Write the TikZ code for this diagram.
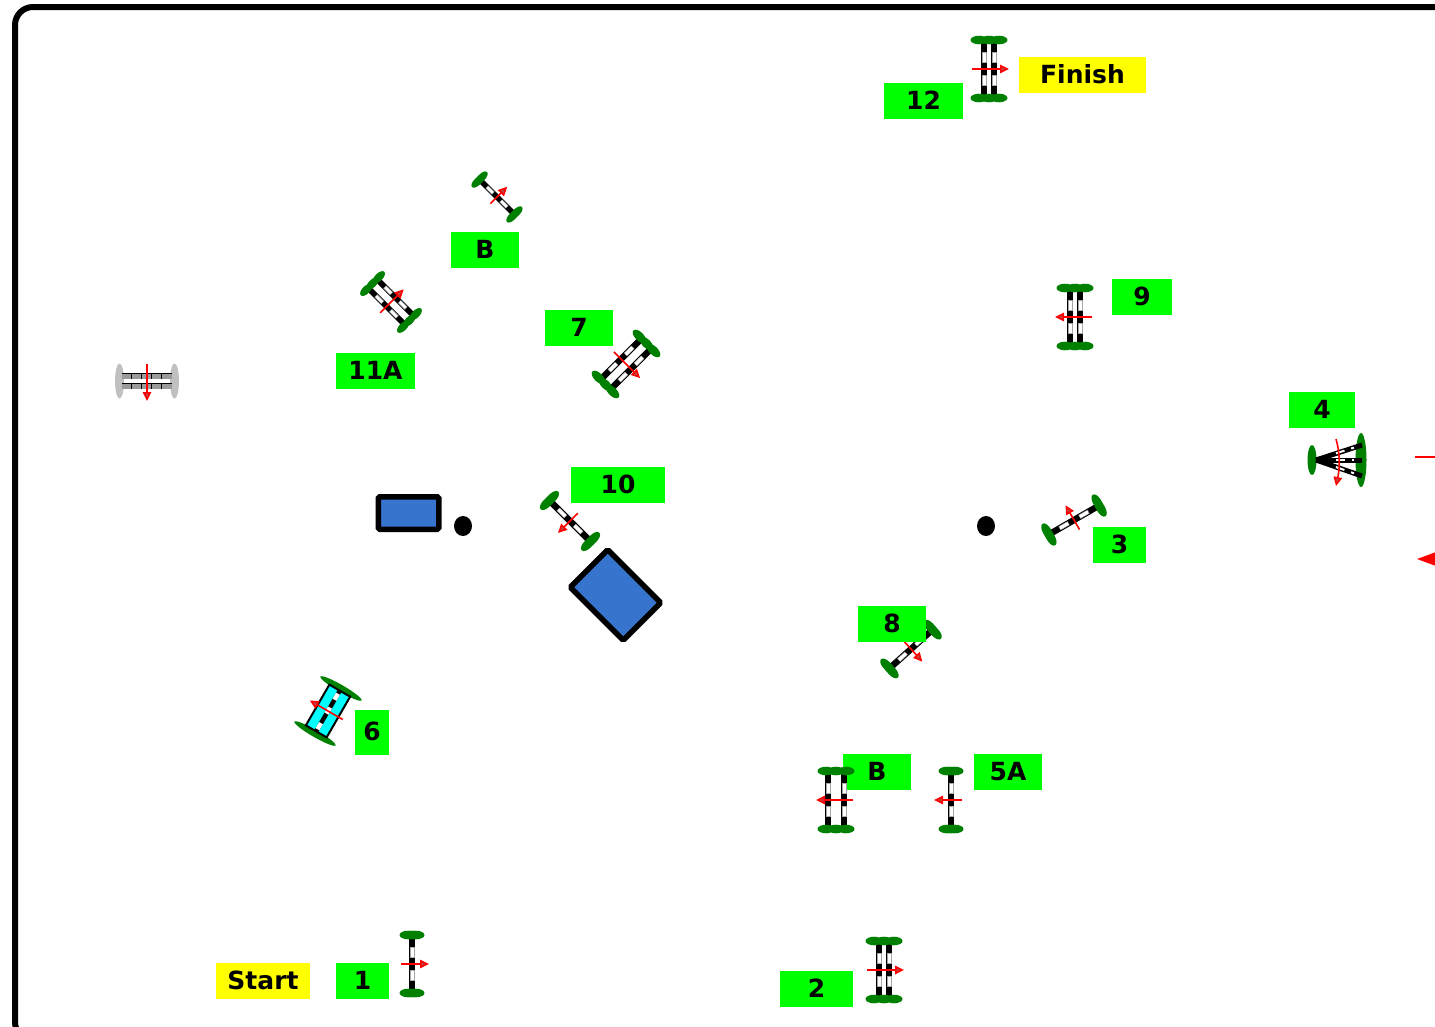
\documentclass[tikz,border=0pt]{standalone}
\usepackage{fontspec}
\setmainfont{DejaVu Sans}
\usepackage{xcolor}
\usetikzlibrary{arrows.meta,shapes.geometric}

\definecolor{hedgegreen}{RGB}{0,128,0}
\definecolor{labelgreen}{RGB}{0,255,0}
\definecolor{labelyellow}{RGB}{255,255,0}
\definecolor{pondblue}{RGB}{54,116,205}
\definecolor{wallgrey}{RGB}{192,192,192}
\definecolor{hedgecyan}{RGB}{0,255,255}

% one striped rail, and the green feet at both of its ends
\newcommand{\railbar}[1]{
    \fill[black] (#1-3.2,-26.5) rectangle (#1+3.2,26.5);
    \foreach \y in {-16.5,6.5} {
        \fill[white, draw=gray!70] (#1-1.9,\y) rectangle (#1+1.9,\y+10);
    }
}
\newcommand{\feetlobes}[1]{
    \foreach \x in {-#1,0,#1} {
        \fill[hedgegreen] (\x,-29) ellipse[x radius=8.5, y radius=4.3];
        \fill[hedgegreen] (\x,29) ellipse[x radius=8.5, y radius=4.3];
    }
}

\tikzset{
    tag/.style={fill=labelgreen, inner sep=0pt, text height=18.2pt, text depth=2pt, font=\fontsize{25}{30}\selectfont\bfseries},
    starttag/.style={tag, fill=labelyellow},
    pond/.style={draw, line width=5.5pt, fill=pondblue, rounded corners=1.5pt},
    post/.style={fill=black, ellipse, minimum width=18pt, minimum height=20pt, inner sep=0pt},
    jumparrow/.style={red, line width=1.6pt, -{Triangle[fill=red!45!gray, length=9pt, width=8.5pt]}},
    pics/singlejump/.style={code={
        \railbar{0}
        \feetlobes{4}
        \draw[jumparrow] (-11,0) -- (17,0);
    }},
    pics/oxerjump/.style={code={
        \fill[gray!60] (-#1,-26.5) rectangle (#1,26.5);
        \fill[white] (-#1+3,-26.5) rectangle (#1-3,26.5);
        \railbar{-#1}
        \railbar{#1}
        \feetlobes{10}
        \draw[jumparrow] (-17,0) -- (20,0);
    }},
    pics/hedgejump/.style={code={
        \fill[hedgegreen] (0,-26) ellipse[x radius=24, y radius=3.5];
        \fill[hedgegreen] (0,26) ellipse[x radius=24, y radius=3.5];
        \draw[line width=2pt, fill=hedgecyan] (-12,-23.5) rectangle (12,23.5);
        \fill[black] (-2.2,-23) rectangle (2.2,23);
        \foreach \y in {-21,-3,13} {
            \fill[white] (-2.2,\y) rectangle (2.2,\y+7);
        }
        \draw[jumparrow] (-17,0) -- (21,0);
    }},
    pics/walljump/.style={code={
        \fill[wallgrey] (0,-27.5) ellipse[x radius=17.5, y radius=4.5];
        \fill[wallgrey] (0,27.5) ellipse[x radius=17.5, y radius=4.5];
        \foreach \x in {-5,5} {
            \fill[wallgrey!80!black] (\x-3,-25) rectangle (\x+3,25);
            \draw[line width=.9pt] (\x-3,-25) -- (\x-3,25);
            \foreach \y in {-14,-4,6,16} {
                \draw[line width=.7pt] (\x-3,\y) -- (\x+3,\y);
            }
        }
        \draw[jumparrow] (-17,0) -- (20,0);
    }},
    pics/fanjump/.style={code={
        \fill[hedgegreen] (-26,0) ellipse[x radius=4.5, y radius=15];
        \fill[hedgegreen] (23,0) ellipse[x radius=5.5, y radius=27];
        \foreach \yend in {-15,0,16} {
            \draw[line width=5pt] (-22,0) -- (24,\yend);
        }
        \foreach \yend in {-15,0,16} {
            \draw[white, line width=2pt, dash pattern=on 9pt off 7pt, dash phase=-2pt] (-4,\yend*.4) -- (16,\yend*.83);
        }
        \draw[jumparrow] (-2,-21) .. controls (2,-7) and (2,7) .. (-2,26);
    }},
}

\begin{document}
\begin{tikzpicture}[x=1pt, y=-1pt]

\path[use as bounding box, clip] (0,0) rectangle (1435,1026);

% frame
\draw[line width=6pt, rounded corners=18pt] (15,1040) rectangle (1500,7);

% ponds and posts
\node[pond, minimum width=60.5pt, minimum height=32.5pt, inner sep=0pt] (pondleft) at (408.5,513) {};
\node[pond, rotate=-45, minimum width=75pt, minimum height=53pt, inner sep=0pt] (pondright) at (615.5,595) {};
\node[post] (postleft) at (463,526) {};
\node[post] (postright) at (986,526) {};

% labels under the jumps
\node[tag, minimum width=68pt, minimum height=36pt] (labelBlow) at (877,772) {B};

% jumps
\pic at (147,381) [rotate=-90] {walljump};
\pic at (412,964) {singlejump};
\pic at (884,970) {oxerjump=5};
\pic at (1074,520) [rotate=120] {singlejump};
\pic at (1338,460) {fanjump};
\pic at (951,800) [rotate=180] {singlejump};
\pic at (836,800) [rotate=180] {oxerjump=8};
\pic at (328,711) [rotate=150] {hedgejump};
\pic at (626,364) [rotate=-45] {oxerjump=7};
\pic at (911,649) [rotate=-48] {singlejump};
\pic at (1075,317) [rotate=180] {oxerjump=5};
\pic at (570,521) [rotate=225] {singlejump};
\pic at (391,302) [rotate=45, scale=.9] {oxerjump=7};
\pic at (497,197) [rotate=45, scale=.85] {singlejump};
\pic at (989,69) {oxerjump=5};

% next part of the course, cut off by the edge
\coordinate (cutline) at (1415,457);
\coordinate (cutlineend) at (1435,457);
\draw[red, line width=1.3pt] (cutline) -- (cutlineend);
\fill[red] (1417,559) -- (1436,552) -- (1436,566) -- cycle;

% labels
\node[starttag, minimum width=94pt, minimum height=36pt] (labelstart) at (263,981) {Start};
\node[tag, minimum width=53pt, minimum height=36pt] (label1) at (362.5,981) {1};
\node[tag, minimum width=73pt, minimum height=36pt] (label2) at (816.5,989) {2};
\node[tag, minimum width=53pt, minimum height=36pt] (label3) at (1119.5,545) {3};
\node[tag, minimum width=66pt, minimum height=36pt] (label4) at (1322,410) {4};
\node[tag, minimum width=68pt, minimum height=36pt] (label5A) at (1008,772) {5A};
\node[tag, minimum width=34pt, minimum height=45pt] (label6) at (372,732.5) {6};
\node[tag, minimum width=68pt, minimum height=36pt] (label7) at (579,328) {7};
\node[tag, minimum width=68pt, minimum height=36pt] (label8) at (892,624) {8};
\node[tag, minimum width=60pt, minimum height=36pt] (label9) at (1142,297) {9};
\node[tag, minimum width=94pt, minimum height=36pt] (label10) at (618,485) {10};
\node[tag, minimum width=79pt, minimum height=36pt] (label11A) at (375.5,371) {11A};
\node[tag, minimum width=68pt, minimum height=36pt] (labelBup) at (485,250) {B};
\node[tag, minimum width=79pt, minimum height=36pt] (label12) at (923.5,101) {12};
\node[starttag, minimum width=127pt, minimum height=36pt] (labelfinish) at (1082.5,75) {Finish};

\end{tikzpicture}
\end{document}
